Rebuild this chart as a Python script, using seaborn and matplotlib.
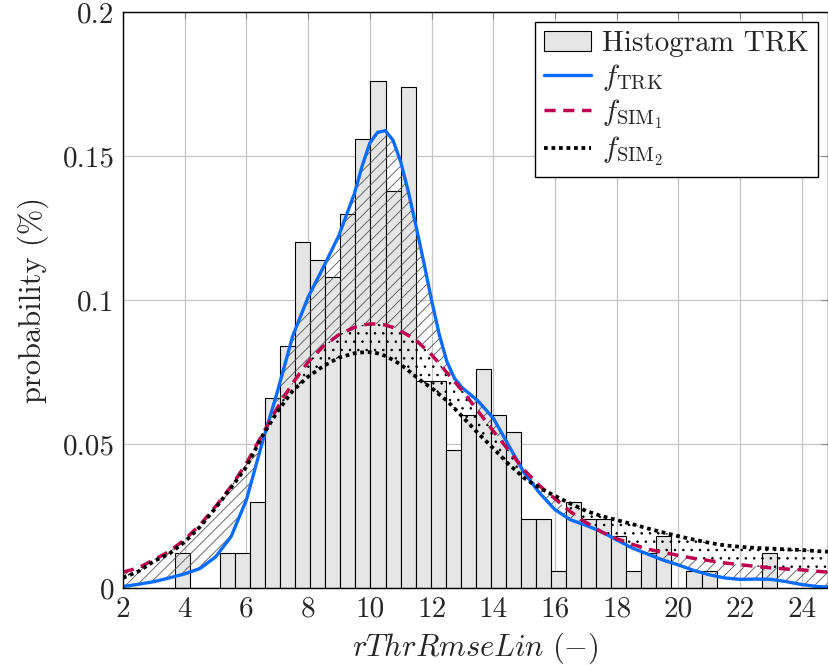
import numpy as np
import pandas as pd
import matplotlib
matplotlib.use("Agg")
import matplotlib.pyplot as plt
import seaborn as sns

# ---------------- data ----------------
hist_lo = 3.68
hist_hi = 23.19
hist_heights = [0.012, 0.0, 0.0, 0.012, 0.012, 0.030, 0.066, 0.084, 0.120, 0.114,
                0.108, 0.130, 0.156, 0.176, 0.138, 0.174, 0.072, 0.072, 0.048, 0.060,
                0.076, 0.060, 0.054, 0.024, 0.024, 0.006, 0.030, 0.024, 0.024, 0.018,
                0.006, 0.012, 0.018, 0.0, 0.006, 0.006, 0.0, 0.0, 0.0, 0.012]

x_grid = [2.0, 2.5, 3.0, 3.5, 4.0, 4.5, 5.0, 5.5, 6.0, 6.5, 7.0, 7.5, 8.0, 8.5, 9.0, 9.5,
          9.75, 10.0, 10.25, 10.5, 10.75, 11.0, 11.25, 11.5, 11.75, 12.0, 12.25,
          12.5, 12.75, 13.0, 13.5, 14.0, 14.5, 15.0, 15.5, 16.0, 16.5, 17.0, 17.5, 18.0, 18.5,
          19.0, 19.5, 20.0, 20.5, 21.0, 21.5, 22.0, 22.5, 23.0, 23.5, 24.0, 24.5, 24.85]

f_trk = [0.0005, 0.0013, 0.0022, 0.0035, 0.0049, 0.0068, 0.0108, 0.0178, 0.0306, 0.0500,
         0.0680, 0.0875, 0.1010, 0.1115, 0.1225, 0.1370,
         0.1465, 0.1545, 0.1582, 0.1588, 0.1555, 0.1480, 0.1375, 0.1255, 0.1130, 0.1000, 0.0880,
         0.0785, 0.0727, 0.0695, 0.0650, 0.0590, 0.0495, 0.0400, 0.0330, 0.0272, 0.0237, 0.0218,
         0.0196, 0.0167, 0.0139, 0.0118, 0.0097, 0.0080, 0.0061, 0.0046, 0.0035, 0.0030,
         0.0031, 0.0030, 0.0022, 0.0012, 0.0005, 0.0003]

f_sim1 = [0.0055, 0.0070, 0.0098, 0.0127, 0.0168, 0.0220, 0.0283, 0.0352, 0.0433, 0.0530,
          0.0625, 0.0712, 0.0785, 0.0840, 0.0880, 0.0905,
          0.0913, 0.0917, 0.0917, 0.0913, 0.0905, 0.0892, 0.0877, 0.0860, 0.0835, 0.0810, 0.0780,
          0.0747, 0.0716, 0.0685, 0.0615, 0.0545, 0.0478, 0.0410, 0.0355, 0.0310, 0.0265, 0.0228,
          0.0195, 0.0171, 0.0152, 0.0135, 0.0124, 0.0113, 0.0103, 0.0095, 0.0087, 0.0081,
          0.0075, 0.0070, 0.0066, 0.0063, 0.0058, 0.0055]

f_sim2 = [0.0035, 0.0058, 0.0093, 0.0119, 0.0160, 0.0213, 0.0278, 0.0348, 0.0421, 0.0525,
          0.0612, 0.0685, 0.0734, 0.0771, 0.0800, 0.0815,
          0.0818, 0.0819, 0.0815, 0.0806, 0.0792, 0.0776, 0.0755, 0.0733, 0.0712, 0.0695, 0.0672,
          0.0650, 0.0623, 0.0595, 0.0538, 0.0485, 0.0430, 0.0382, 0.0347, 0.0320, 0.0293, 0.0268,
          0.0250, 0.0236, 0.0222, 0.0207, 0.0193, 0.0180, 0.0168, 0.0157, 0.0148, 0.0143,
          0.0139, 0.0137, 0.0134, 0.0132, 0.0128, 0.0126]

x_ticks = [2, 4, 6, 8, 10, 12, 14, 16, 18, 20, 22, 24]
y_ticks = [0, 0.05, 0.1, 0.15, 0.2]
y_tick_labels = ["0", "0.05", "0.1", "0.15", "0.2"]

labels = ["Histogram TRK", r"$f_{\mathrm{TRK}}$", r"$f_{\mathrm{SIM}_1}$", r"$f_{\mathrm{SIM}_2}$"]
x_label = r"$rThrRmseLin\ (-)$"
y_label = "probability (%)"

# ---------------- style ----------------
sns.set_style("white")
plt.rcParams["font.family"] = ["serif"]
plt.rcParams["font.serif"] = ["cmr10", "DejaVu Serif"]
plt.rcParams["mathtext.fontset"] = "cm"
plt.rcParams["axes.formatter.use_mathtext"] = True
plt.rcParams["hatch.linewidth"] = 0.6

FS = 21

fig = plt.figure(figsize=(8.29, 6.71), dpi=100)
ax = fig.add_axes([0.1484, 0.1237, 0.8504, 0.8584])

x = np.array(x_grid)
trk = np.array(f_trk)
s1 = np.array(f_sim1)
s2 = np.array(f_sim2)

edges = np.linspace(hist_lo, hist_hi, len(hist_heights) + 1)
hist_df = pd.DataFrame({"center": 0.5 * (edges[:-1] + edges[1:]),
                        "height": hist_heights})

sns.histplot(data=hist_df, x="center", weights="height", bins=list(edges),
             stat="count", color="#e5e5e5", edgecolor="black", linewidth=0.8,
             alpha=1.0, label=labels[0], ax=ax, zorder=2)

ax.fill_between(x, trk, s1, facecolor="none", edgecolor="#555555",
                hatch="///", linewidth=0, zorder=3)
ax.fill_between(x, s1, s2, facecolor="none", edgecolor="black",
                hatch="..", linewidth=0, zorder=3)

curve_df = pd.DataFrame({"x": x, "trk": trk, "s1": s1, "s2": s2})
sns.lineplot(data=curve_df, x="x", y="trk", color="#0a6cff", linewidth=2.4,
             label=labels[1], ax=ax, zorder=5, sort=False)
sns.lineplot(data=curve_df, x="x", y="s1", color="#bf0050", linewidth=2.5,
             label=labels[2], ax=ax, zorder=5, sort=False)
sns.lineplot(data=curve_df, x="x", y="s2", color="black", linewidth=2.7,
             label=labels[3], ax=ax, zorder=5, sort=False)
lines = ax.get_lines()
lines[-2].set_linestyle((0, (3.2, 2.2)))
lines[-1].set_linestyle((0, (1.0, 1.0)))

ax.set_xlim(2, 24.85)
ax.set_ylim(0, 0.2)
ax.set_xticks(x_ticks)
ax.set_xticklabels([str(t) for t in x_ticks])
ax.set_yticks(y_ticks)
ax.set_yticklabels(y_tick_labels)
ax.tick_params(axis="both", direction="in", length=5, width=0.8, color="#888888",
               top=True, right=True, labelsize=FS, pad=6)
ax.grid(True, color="#c4c4c4", linewidth=0.9, zorder=0)
ax.set_axisbelow(True)
for sp in ax.spines.values():
    sp.set_color("black")
    sp.set_linewidth(1.0)
    sp.set_zorder(6)

ax.set_xlabel(x_label, fontsize=FS + 1, labelpad=6)
ax.set_ylabel(y_label, fontsize=FS + 1, labelpad=10)

handles, labs = ax.get_legend_handles_labels()
order = [labs.index(l) for l in labels]
leg = ax.legend([handles[i] for i in order], [labs[i] for i in order],
                loc="upper right", fontsize=FS, frameon=True, fancybox=False,
                edgecolor="black", framealpha=1, borderpad=0.3, labelspacing=0.15,
                handlelength=1.6, handletextpad=0.4, borderaxespad=0.35)
leg.get_frame().set_linewidth(1.0)
leg.set_zorder(10)

fig.savefig("out.png", dpi=100)
